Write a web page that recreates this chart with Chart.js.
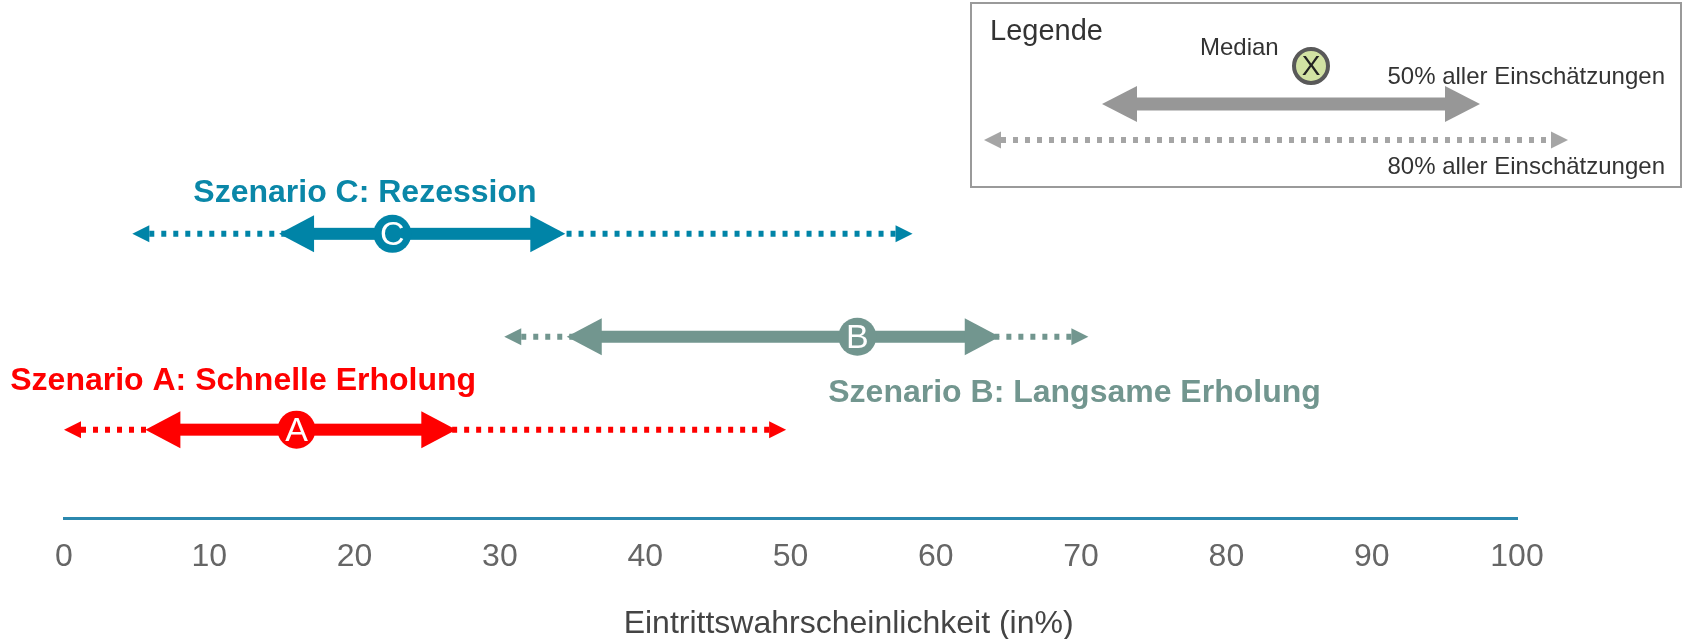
<!DOCTYPE html>
<html>
<head>
<meta charset="utf-8">
<script src="https://cdn.jsdelivr.net/npm/chart.js@4.4.1/dist/chart.umd.min.js"></script>
<style>
  html, body { margin: 0; padding: 0; background: #fff; }
</style>
</head>
<body>
<canvas id="rangeChart" width="1686" height="639"></canvas>
<script>
// Scenario data (Eintrittswahrscheinlichkeit in %)
const scenarios = ['A', 'B', 'C'];
const scenarioLabels = ['Szenario A: Schnelle Erholung', 'Szenario B: Langsame Erholung', 'Szenario C: Rezession'];
const low80 = [0, 30.3, 4.7];
const low50 = [5.6, 34.6, 14.8];
const medians = [16.0, 54.6, 22.6];
const high50 = [27.0, 64.4, 34.5];
const high80 = [49.7, 70.5, 58.4];
const xTicks = [0, 10, 20, 30, 40, 50, 60, 70, 80, 90, 100];

// Layout / style (not data)
const rowLevel = [0.89, 1.82, 2.85];
const colors = ['#ff0000', '#72968f', '#0084a7'];
const labelColors = ['#ff0000', '#72968f', '#0a87a8'];
const labelAnchorX = [-3.7, 52.6, 8.9];   // left edge of scenario label, in axis units
const labelDy = [-48, 56, -41];           // label offset from row, px
const FONT = '"Liberation Sans", Arial, Helvetica, sans-serif';

function head(ctx, tipX, y, dir, len, half) {
    ctx.beginPath();
    ctx.moveTo(tipX, y);
    ctx.lineTo(tipX - dir * len, y - half);
    ctx.lineTo(tipX - dir * len, y + half);
    ctx.closePath();
    ctx.fill();
}

function dotted(ctx, x1, x2, y, color) {
    ctx.save();
    ctx.strokeStyle = color;
    ctx.lineWidth = 6;
    ctx.setLineDash([5, 7]);
    ctx.beginPath();
    ctx.moveTo(x1, y);
    ctx.lineTo(x2, y);
    ctx.stroke();
    ctx.restore();
}

function rangeArrow(ctx, xl80, xl50, xh50, xh80, y, color) {
    ctx.fillStyle = color;
    // 80% range: dotted with small heads
    dotted(ctx, xl80 + 17, xl50 + 10, y, color);
    dotted(ctx, xh80 - 17, xh50 - 10, y, color);
    head(ctx, xl80, y, -1, 17, 8.5);
    head(ctx, xh80, y, 1, 17, 8.5);
    // 50% range: thick shaft with big heads
    ctx.fillRect(xl50 + 34, y - 6, (xh50 - 34) - (xl50 + 34), 12);
    head(ctx, xl50, y, -1, 35, 18.5);
    head(ctx, xh50, y, 1, 35, 18.5);
}

const rangeArrows = {
    id: 'rangeArrows',
    beforeDatasetsDraw(chart) {
        const { ctx, scales: { x, y } } = chart;
        ctx.save();
        scenarios.forEach((s, i) => {
            rangeArrow(ctx,
                x.getPixelForValue(low80[i]),
                x.getPixelForValue(low50[i]),
                x.getPixelForValue(high50[i]),
                x.getPixelForValue(high80[i]),
                y.getPixelForValue(rowLevel[i]),
                colors[i]);
        });
        ctx.restore();
    },
    afterDatasetsDraw(chart) {
        const { ctx, scales: { x, y } } = chart;
        ctx.save();
        // letters in the median circles
        const meta = chart.getDatasetMeta(0);
        ctx.fillStyle = '#fff';
        ctx.font = '34px ' + FONT;
        ctx.textAlign = 'center';
        ctx.textBaseline = 'middle';
        meta.data.forEach((pt, i) => {
            ctx.fillText(scenarios[i], pt.x, pt.y + 2);
        });

        // scenario labels
        ctx.font = 'bold 32px ' + FONT;
        ctx.textAlign = 'left';
        scenarios.forEach((s, i) => {
            ctx.fillStyle = labelColors[i];
            ctx.fillText(scenarioLabels[i], x.getPixelForValue(labelAnchorX[i]), y.getPixelForValue(rowLevel[i]) + labelDy[i]);
        });

        // axis title
        ctx.fillStyle = '#444';
        ctx.font = '32px ' + FONT;
        ctx.textAlign = 'center';
        ctx.fillText('Eintrittswahrscheinlichkeit (in%)', x.getPixelForValue(54), 624);

        // legend box
        const lx = 971, ly = 3, lw = 710, lh = 184;
        ctx.strokeStyle = '#9a9a9a';
        ctx.lineWidth = 2;
        ctx.strokeRect(lx, ly, lw, lh);

        ctx.fillStyle = '#333';
        ctx.textAlign = 'left';
        ctx.font = '29px ' + FONT;
        ctx.fillText('Legende', 990, 32);
        ctx.font = '24px ' + FONT;
        ctx.fillText('Median', 1200, 48);
        ctx.textAlign = 'right';
        ctx.fillText('50% aller Einschätzungen', 1665, 77);
        ctx.fillText('80% aller Einschätzungen', 1665, 167);

        // median symbol
        ctx.beginPath();
        ctx.arc(1311, 66, 17, 0, Math.PI * 2);
        ctx.fillStyle = '#d2e2a3';
        ctx.fill();
        ctx.lineWidth = 4;
        ctx.strokeStyle = '#595959';
        ctx.stroke();
        ctx.fillStyle = '#222';
        ctx.textAlign = 'center';
        ctx.font = '28px ' + FONT;
        ctx.fillText('X', 1311, 67);

        // legend arrows
        ctx.fillStyle = '#979797';
        ctx.fillRect(1102 + 34, 104 - 6.5, 1480 - 1102 - 68, 13);
        head(ctx, 1102, 104, -1, 35, 18);
        head(ctx, 1480, 104, 1, 35, 18);

        ctx.fillStyle = '#a5a5a5';
        dotted(ctx, 984 + 17, 1568 - 17, 140, '#a5a5a5');
        head(ctx, 984, 140, -1, 17, 8.5);
        head(ctx, 1568, 140, 1, 17, 8.5);
        ctx.restore();
    }
};

const ctx = document.getElementById('rangeChart').getContext('2d');
new Chart(ctx, {
    type: 'scatter',
    data: {
        datasets: [{
            data: scenarios.map((s, i) => ({ x: medians[i], y: rowLevel[i] })),
            backgroundColor: colors,
            borderWidth: 0,
            pointRadius: 19,
            pointHoverRadius: 19
        }]
    },
    options: {
        responsive: false,
        animation: false,
        events: [],
        layout: {
            padding: { left: 64, right: 169, top: 0, bottom: 44 }
        },
        scales: {
            x: {
                type: 'linear',
                min: 0,
                max: 100,
                afterBuildTicks: (scale) => {
                    scale.ticks = xTicks.map(v => ({ value: v }));
                },
                ticks: {
                    color: '#666',
                    padding: 19,
                    font: { size: 32, family: FONT }
                },
                grid: { display: false, drawTicks: false },
                border: { display: true, color: '#2b88ae', width: 3 }
            },
            y: {
                type: 'linear',
                min: 0,
                max: 5.0,
                display: false
            }
        },
        plugins: {
            legend: { display: false },
            tooltip: { enabled: false }
        }
    },
    plugins: [rangeArrows]
});
</script>
</body>
</html>
